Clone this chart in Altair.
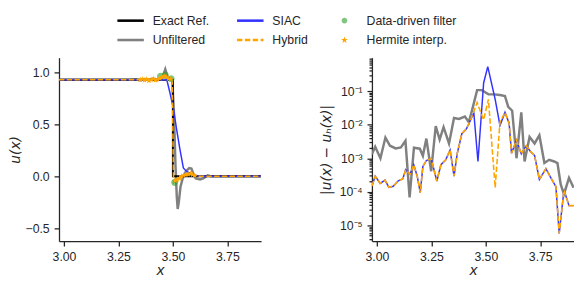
import altair as alt
import pandas as pd

# ---------------- legend / series definitions ----------------
SERIES = ["Exact Ref.", "Unfiltered", "SIAC", "Hybrid", "Data-driven filter", "Hermite interp."]
COLORS = ["#000000", "#808080", "#3333ff", "#ffa500", "rgba(44,160,44,0.6)", "#ffa500"]

LINE_PATH = "M-1.35,-0.13L1.35,-0.13L1.35,0.13L-1.35,0.13Z"
DASH_PATH = ("M-1.35,-0.13L-0.8,-0.13L-0.8,0.13L-1.35,0.13Z "
             "M-0.55,-0.13L0,-0.13L0,0.13L-0.55,0.13Z "
             "M0.25,-0.13L0.8,-0.13L0.8,0.13L0.25,0.13Z "
             "M1.05,-0.13L1.35,-0.13L1.35,0.13L1.05,0.13Z")
CIRCLE_PATH = "M0.29,0A0.29,0.29,0,1,1,-0.29,0A0.29,0.29,0,1,1,0.29,0Z"
STAR_PATH = ("M0,-0.36L0.085,-0.117L0.342,-0.111L0.138,0.045L0.212,0.291L0,0.145"
             "L-0.212,0.291L-0.138,0.045L-0.342,-0.111L-0.085,-0.117Z")
SHAPES = [LINE_PATH, LINE_PATH, LINE_PATH, DASH_PATH, CIRCLE_PATH, STAR_PATH]

# ---------------- left panel: u(x) ----------------
EXACT_X = [2.977, 3.5, 3.5, 3.905]
EXACT_U = [0.93, 0.93, 0.0, 0.0]

UNF_X = [2.977, 3.30, 3.33, 3.35, 3.37, 3.39, 3.41, 3.43, 3.445, 3.455, 3.465, 3.475,
         3.488, 3.497, 3.505, 3.512, 3.518, 3.522, 3.527, 3.535, 3.545, 3.56, 3.575,
         3.585, 3.595, 3.605, 3.625, 3.64, 3.66, 3.675, 3.905]
UNF_U = [0.93, 0.93, 0.935, 0.925, 0.935, 0.925, 0.94, 0.925, 0.945, 0.97, 1.03, 0.96,
         0.935, 0.93, 0.6, 0.1, -0.2, -0.315, -0.25, -0.1, -0.02, 0.05, 0.08,
         0.075, 0.02, -0.02, -0.03, -0.02, 0.01, 0.0, 0.0]

SIAC_X = [2.977, 3.455, 3.472, 3.487, 3.503, 3.518, 3.533, 3.548, 3.563, 3.593, 3.62, 3.905]
SIAC_U = [0.93, 0.93, 0.93, 0.80, 0.647, 0.44, 0.253, 0.08, 0.047, 0.016, 0.0, 0.0]

HYB_X = [2.977, 3.34, 3.355, 3.37, 3.385, 3.40, 3.415, 3.43, 3.445, 3.458, 3.47, 3.485,
         3.497, 3.503, 3.515, 3.53, 3.545, 3.56, 3.575, 3.59, 3.605, 3.905]
HYB_U = [0.93, 0.93, 0.935, 0.925, 0.935, 0.922, 0.938, 0.925, 0.95, 0.965, 0.95, 0.935,
         0.93, -0.06, -0.03, -0.01, 0.01, 0.02, 0.025, 0.015, 0.0, 0.0]

DD_X = [3.443, 3.465, 3.492, 3.508]
DD_U = [0.963, 0.975, 0.94, -0.06]

HERM_X = [3.35, 3.36, 3.37, 3.38, 3.39, 3.40, 3.41, 3.42, 3.43, 3.44, 3.45, 3.46, 3.47,
          3.48, 3.49, 3.51, 3.52, 3.53, 3.54, 3.55, 3.56, 3.57, 3.58, 3.59, 3.60]
HERM_U = [0.93, 0.935, 0.925, 0.935, 0.92, 0.93, 0.94, 0.925, 0.935, 0.945, 0.955, 0.965,
          0.955, 0.94, 0.935, -0.04, -0.03, -0.02, 0.0, 0.01, 0.015, 0.02, 0.025, 0.015, 0.005]

# ---------------- right panel: |u - u_h| ----------------
ERR_UNF_X = [2.977, 2.992, 3.016, 3.039, 3.060, 3.086, 3.110, 3.131, 3.150, 3.170, 3.197,
             3.211, 3.227, 3.249, 3.270, 3.288, 3.306, 3.331, 3.354, 3.377, 3.404, 3.422,
             3.437, 3.460, 3.482, 3.512, 3.538, 3.565, 3.588, 3.603, 3.621, 3.641, 3.663,
             3.678, 3.701, 3.724, 3.746, 3.769, 3.791, 3.814, 3.829, 3.844, 3.859, 3.882, 3.903]
ERR_UNF = [1.32e-3, 2.20e-3, 1.00e-3, 4.13e-3, 2.36e-3, 1.97e-3, 2.11e-3, 3.30e-3, 6.8e-5,
           2.06e-3, 1.93e-3, 1.18e-3, 3.86e-3, 4.1e-4, 9.06e-3, 3.61e-3, 8.47e-3, 2.76e-3,
           1.59e-2, 1.49e-2, 1.74e-2, 1.19e-2, 2.72e-2, 0.107, 0.107, 0.080, 0.080, 0.0764,
           0.0714, 0.034, 0.026, 1.0e-3, 0.0232, 8.0e-4, 4.32e-3, 2.76e-3, 4.83e-3, 7.2e-4,
           9.0e-4, 8.0e-4, 7.2e-4, 1.67e-4, 8.5e-5, 2.61e-4, 1.33e-4]

ERR_LEFT_X = [2.977, 2.992, 3.015, 3.037, 3.055, 3.075, 3.098, 3.119, 3.132, 3.152, 3.169,
              3.185, 3.199, 3.211, 3.227, 3.249, 3.275, 3.294, 3.316, 3.336, 3.354, 3.369,
              3.390, 3.411, 3.429]
ERR_LEFT = [1.49e-4, 2.92e-4, 1.78e-4, 2.23e-4, 1.36e-4, 1.46e-4, 2.13e-4, 2.44e-4, 4.58e-4,
            3.34e-4, 6.41e-4, 2.92e-4, 9.5e-5, 5.73e-4, 8.59e-4, 9.82e-4, 2.1e-4, 6.41e-4,
            8.97e-4, 1.76e-3, 2.92e-4, 1.41e-3, 5.41e-3, 7.57e-3, 1.33e-2]

ERR_SIAC_MID_X = [3.445, 3.464, 3.490, 3.509, 3.543, 3.565]
ERR_SIAC_MID = [0.0222, 8.02e-4, 0.175, 0.538, 0.057, 9.48e-3]

ERR_HYB_MID_X = [3.460, 3.490, 3.512, 3.543, 3.565]
ERR_HYB_MID = [0.0456, 0.0139, 0.057, 1.33e-4, 0.0119]

ERR_RIGHT_X = [3.588, 3.607, 3.618, 3.641, 3.663, 3.686, 3.705, 3.724, 3.746, 3.776, 3.800,
               3.822, 3.837, 3.859, 3.882, 3.903]
ERR_RIGHT = [0.0232, 0.0111, 1.41e-3, 3.45e-3, 1.35e-3, 2.36e-3, 1.6e-3, 1.20e-3, 2.34e-4,
             4.90e-4, 2.5e-4, 1.43e-4, 5.75e-6, 1.14e-4, 3.88e-5, 3.88e-5]


def frame(xs, ys, name):
    return pd.DataFrame({"x": xs, "y": ys, "series": name, "idx": list(range(len(xs)))})


FONT = "Liberation Sans"
TFONT = "DejaVu Sans"
INK = "#262626"
W, H = 206, 187

color_scale = alt.Scale(domain=SERIES, range=COLORS)
shape_scale = alt.Scale(domain=SERIES, range=SHAPES)
legend = alt.Legend(title=None, orient="none", legendX=63, legendY=-48, columns=3,
                    columnPadding=27, rowPadding=3, symbolSize=400, symbolStrokeWidth=0,
                    labelFont=FONT, labelFontSize=12.5, labelOffset=12.5, labelColor=INK,
                    padding=0)

x_axis = alt.Axis(values=[3.0, 3.25, 3.5, 3.75], format=".2f", title="x", titlePadding=1)
x_enc = alt.X("x:Q", scale=alt.Scale(domain=[2.977, 3.905], nice=False, zero=False), axis=x_axis)

yl_enc = alt.Y("y:Q", scale=alt.Scale(domain=[-0.624, 1.142], nice=False, zero=False),
               axis=alt.Axis(values=[-0.5, 0.0, 0.5, 1.0], format=".1f", title="u(x)",
                             titlePadding=2.5))
col = alt.Color("series:N", scale=color_scale, legend=legend)
order = alt.Order("idx:Q")


def lline(df, width, dash=None):
    kw = dict(strokeWidth=width, clip=True, interpolate="linear")
    if dash is not None:
        kw["strokeDash"] = dash
    return alt.Chart(df).mark_line(**kw).encode(x=x_enc, y=yl_enc, color=col, order=order)


def lpoints(df, size):
    return alt.Chart(df).mark_point(filled=True, size=size, opacity=1, strokeWidth=0, clip=True).encode(
        x=x_enc, y=yl_enc, color=col,
        shape=alt.Shape("series:N", scale=shape_scale, legend=legend))


left = alt.layer(
    lline(frame(UNF_X, UNF_U, "Unfiltered"), 2.5),
    lline(frame(EXACT_X, EXACT_U, "Exact Ref."), 2),
    lline(frame(SIAC_X, SIAC_U, "SIAC"), 1.5),
    lline(frame(HYB_X, HYB_U, "Hybrid"), 1.6, [5.5, 2.4]),
    lpoints(frame(DD_X, DD_U, "Data-driven filter"), 583),
    lpoints(frame(HERM_X, HERM_U, "Hermite interp."), 320),
).properties(width=W, height=H)

# right panel
ticks = []
for m in [1e-6, 1e-5, 1e-4, 1e-3, 1e-2, 1e-1]:
    for k in range(1, 10):
        v = k * m
        if 3.4e-6 <= v <= 0.99:
            ticks.append(m if k == 1 else v)
label_expr = ("datum.value == 0.1 ? '10\u207b\u00b9' : datum.value == 0.01 ? '10\u207b\u00b2' : "
              "datum.value == 0.001 ? '10\u207b\u00b3' : datum.value == 0.0001 ? '10\u207b\u2074' : "
              "datum.value == 0.00001 ? '10\u207b\u2075' : ''")
is_major = ("datum.value == 0.1 || datum.value == 0.01 || datum.value == 0.001 || "
            "datum.value == 0.0001 || datum.value == 0.00001")
yr_enc = alt.Y("y:Q", scale=alt.Scale(type="log", domain=[3.4e-6, 0.99], nice=False),
               axis=alt.Axis(values=ticks, labelExpr=label_expr,
                             tickSize={"condition": {"test": is_major, "value": 5}, "value": 3},
                             title="|u(x) \u2212 u\u2095(x)|", titlePadding=5.5))
col_r = alt.Color("series:N", scale=color_scale)


def rline(df, width, dash=None):
    kw = dict(strokeWidth=width, clip=True)
    if dash is not None:
        kw["strokeDash"] = dash
    return alt.Chart(df).mark_line(**kw).encode(x=x_enc, y=yr_enc, color=col_r, order=order)


right = alt.layer(
    rline(frame(ERR_UNF_X, ERR_UNF, "Unfiltered"), 2.5),
    rline(frame(ERR_LEFT_X + ERR_SIAC_MID_X + ERR_RIGHT_X, ERR_LEFT + ERR_SIAC_MID + ERR_RIGHT, "SIAC"), 1.5),
    rline(frame(ERR_LEFT_X + ERR_HYB_MID_X + ERR_RIGHT_X, ERR_LEFT + ERR_HYB_MID + ERR_RIGHT, "Hybrid"), 1.6, [5.5, 2.4]),
).properties(width=W, height=H)

chart = alt.hconcat(left, right, spacing=60).properties(padding=0, background="white").configure_view(
    stroke=None
).configure_axis(
    domainColor=INK, domainWidth=1.3, tickColor=INK, tickWidth=1.3, tickSize=5,
    labelFont=FONT, labelFontSize=12.5, labelColor=INK, labelPadding=5,
    titleFont=TFONT, titleFontSize=14, titleFontStyle="italic", titleFontWeight="normal",
    titleColor=INK, grid=False
)

chart.save("out.html", embed_options={"renderer": "svg", "actions": False})
